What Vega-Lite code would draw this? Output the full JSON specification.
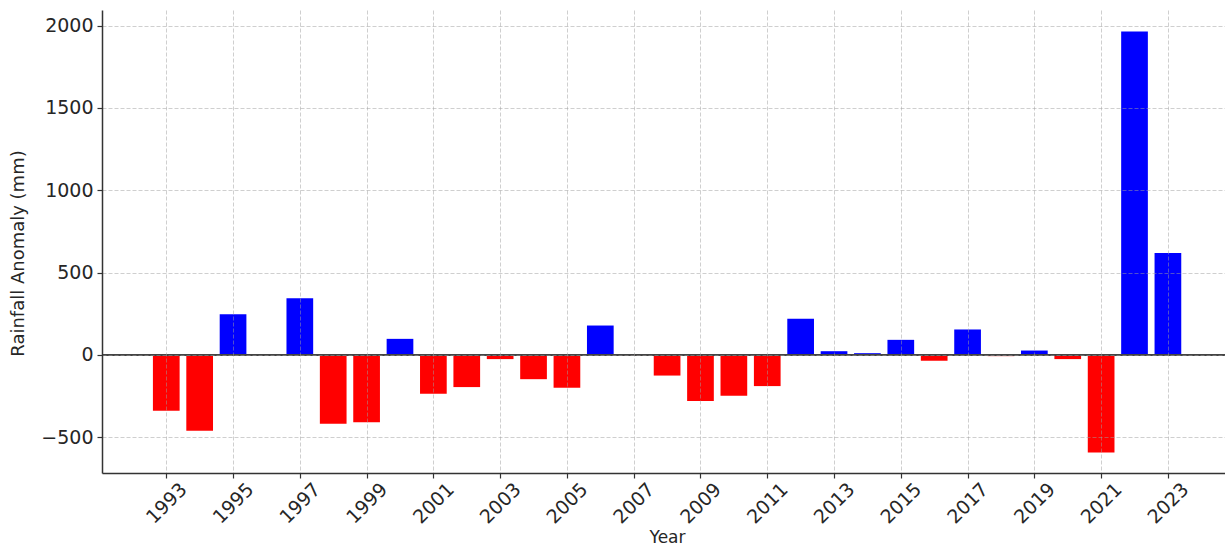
{
  "$schema": "https://vega.github.io/schema/vega-lite/v6.json",
  "width": 1123,
  "height": 463,
  "autosize": {"type": "none"},
  "padding": {"left": 102, "top": 10, "right": 0, "bottom": 77},
  "background": "white",
  "config": {"view": {"stroke": null}, "font": "DejaVu Sans"},
  "data": {
    "values": [
      {"year": 1993, "anomaly": -340},
      {"year": 1994, "anomaly": -462},
      {"year": 1995, "anomaly": 247},
      {"year": 1997, "anomaly": 344},
      {"year": 1998, "anomaly": -419},
      {"year": 1999, "anomaly": -409},
      {"year": 2000, "anomaly": 97},
      {"year": 2001, "anomaly": -237},
      {"year": 2002, "anomaly": -196},
      {"year": 2003, "anomaly": -26},
      {"year": 2004, "anomaly": -148},
      {"year": 2005, "anomaly": -200},
      {"year": 2006, "anomaly": 178},
      {"year": 2007, "anomaly": -6},
      {"year": 2008, "anomaly": -126},
      {"year": 2009, "anomaly": -281},
      {"year": 2010, "anomaly": -249},
      {"year": 2011, "anomaly": -190},
      {"year": 2012, "anomaly": 219},
      {"year": 2013, "anomaly": 22},
      {"year": 2014, "anomaly": 10},
      {"year": 2015, "anomaly": 91},
      {"year": 2016, "anomaly": -36},
      {"year": 2017, "anomaly": 154},
      {"year": 2018, "anomaly": -8},
      {"year": 2019, "anomaly": 26},
      {"year": 2020, "anomaly": -26},
      {"year": 2021, "anomaly": -593},
      {"year": 2022, "anomaly": 1964},
      {"year": 2023, "anomaly": 618}
    ]
  },
  "layer": [
    {
      "mark": {"type": "bar", "width": 26.7},
      "encoding": {
        "x": {
          "field": "year",
          "type": "quantitative",
          "scale": {"domain": [1991.075, 2024.71], "nice": false, "zero": false, "padding": 0},
          "axis": {
            "title": "Year",
            "values": [1993, 1995, 1997, 1999, 2001, 2003, 2005, 2007, 2009, 2011, 2013, 2015, 2017, 2019, 2021, 2023],
            "format": "d",
            "labelAngle": -45,
            "labelAlign": "center",
            "labelBaseline": "middle",
            "labelPadding": 25,
            "labelFontSize": 19,
            "labelColor": "#262626",
            "labelFlush": false,
            "labelOverlap": false,
            "tickSize": 5,
            "tickColor": "#333333",
            "tickWidth": 1.2,
            "domainColor": "#333333",
            "domainWidth": 1.5,
            "grid": true,
            "gridDash": [4, 2],
            "gridColor": "#a0a0a0",
            "gridOpacity": 0.5,
            "titleFontSize": 17,
            "titleFontWeight": "normal",
            "titleColor": "#262626",
            "titleX": 565,
            "titleY": 69,
            "titleAlign": "center",
            "titleBaseline": "alphabetic",
            "zindex": 1
          }
        },
        "y": {
          "field": "anomaly",
          "type": "quantitative",
          "scale": {"domain": [-718, 2095], "nice": false, "padding": 0},
          "axis": {
            "title": "Rainfall Anomaly (mm)",
            "values": [-500, 0, 500, 1000, 1500, 2000],
            "format": "d",
            "labelFontSize": 19,
            "labelColor": "#262626",
            "labelPadding": 4,
            "labelFlush": false,
            "tickSize": 5,
            "tickColor": "#333333",
            "tickWidth": 1.2,
            "domainColor": "#333333",
            "domainWidth": 1.5,
            "grid": true,
            "gridDash": [4, 2],
            "gridColor": "#a0a0a0",
            "gridOpacity": 0.5,
            "titleFontSize": 18,
            "titleFontWeight": "normal",
            "titleColor": "#262626",
            "titleAngle": -90,
            "titleX": -84,
            "titleY": 243,
            "titleAlign": "center",
            "titleBaseline": "middle",
            "zindex": 1
          }
        },
        "color": {
          "condition": {"test": "datum.anomaly < 0", "value": "#ff0000"},
          "value": "#0000ff"
        }
      }
    },
    {
      "mark": {"type": "rule", "color": "#444444", "strokeWidth": 1.5},
      "encoding": {"y": {"datum": 0}}
    }
  ]
}
